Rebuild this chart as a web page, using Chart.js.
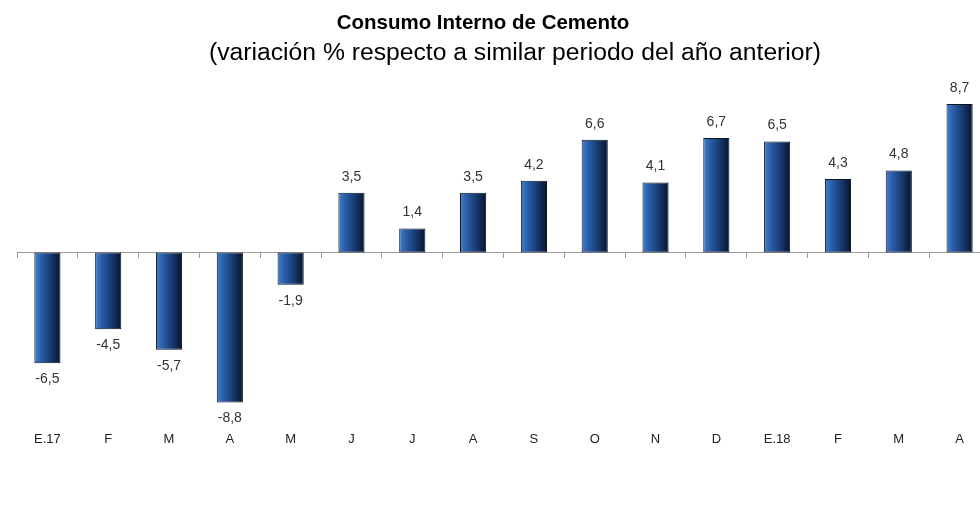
<!DOCTYPE html>
<html>
<head>
<meta charset="utf-8">
<script src="https://cdn.jsdelivr.net/npm/chart.js@4/dist/chart.umd.min.js"></script>
<style>
  html, body { margin: 0; padding: 0; background: #fff; overflow: hidden; }
  #wrap { position: relative; width: 995px; height: 517px; }
  .title { position: absolute; font-family: 'Liberation Sans', Arial, sans-serif; color: #000; text-align: center; white-space: nowrap; }
  #t1 { left: 0; width: 966px; top: 10px; font-size: 20.5px; line-height: 24px; font-weight: bold; }
  #t2 { left: 0; width: 1030px; top: 37px; font-size: 24.7px; line-height: 30px; }
  #chart { position: absolute; left: 0; top: 0; }
</style>
</head>
<body>
<div id="wrap">
  <canvas id="chart" width="995" height="517"></canvas>
  <div class="title" id="t1">Consumo Interno de Cemento</div>
  <div class="title" id="t2">(variación % respecto a similar periodo del año anterior)</div>
</div>
<script>
const months = ['E.17', 'F', 'M', 'A', 'M', 'J', 'J', 'A', 'S', 'O', 'N', 'D', 'E.18', 'F', 'M', 'A'];
const variation = [-6.5, -4.5, -5.7, -8.8, -1.9, 3.5, 1.4, 3.5, 4.2, 6.6, 4.1, 6.7, 6.5, 4.3, 4.8, 8.7];

const BAR_PCT = 0.43;

// horizontal light-to-dark gradient for each bar
function barFill(c) {
    const chart = c.chart;
    const xs = chart.scales.x;
    if (!xs || c.dataIndex === undefined) return '#1d4a8a';
    const cx = xs.getPixelForValue(c.dataIndex);
    const half = (xs.width / months.length) * BAR_PCT / 2;
    if (!isFinite(cx) || !isFinite(half) || half <= 0) return '#1d4a8a';
    const g = chart.ctx.createLinearGradient(cx - half, 0, cx + half, 0);
    g.addColorStop(0, '#4580cc');
    g.addColorStop(0.25, '#2a5ea8');
    g.addColorStop(0.6, '#173d75');
    g.addColorStop(1, '#08142a');
    return g;
}

// value labels above / below bars
const valueLabels = {
    id: 'valueLabels',
    afterDatasetsDraw(chart) {
        const ctx = chart.ctx;
        ctx.save();
        ctx.font = "14px 'Liberation Sans', Arial, sans-serif";
        ctx.fillStyle = '#333';
        ctx.textAlign = 'center';
        ctx.textBaseline = 'middle';
        chart.getDatasetMeta(0).data.forEach((bar, i) => {
            const v = variation[i];
            const y = v >= 0 ? bar.y - 16 : bar.y + 16;
            ctx.fillText(v.toFixed(1).replace('.', ','), bar.x, y);
        });
        ctx.restore();
    }
};

new Chart(document.getElementById('chart'), {
    type: 'bar',
    data: {
        labels: months,
        datasets: [{
            data: variation,
            backgroundColor: barFill,
            borderColor: '#0a1322',
            borderWidth: 1,
            borderSkipped: false,
            categoryPercentage: 1,
            barPercentage: BAR_PCT
        }]
    },
    options: {
        responsive: false,
        animation: false,
        layout: { padding: { top: 80, left: 17, right: 5, bottom: 68 } },
        plugins: { legend: { display: false }, tooltip: { enabled: false } },
        scales: {
            x: {
                grid: { display: false },
                border: { display: false },
                ticks: {
                    padding: 2,
                    color: '#222',
                    font: { family: "'Liberation Sans', Arial, sans-serif", size: 13 }
                }
            },
            x2: {
                type: 'category',
                position: { y: 0 },
                grid: { offset: true, drawOnChartArea: false, tickLength: 5, color: '#999' },
                border: { display: true, color: '#999', width: 1 },
                ticks: { display: false }
            },
            y: {
                display: false,
                min: -9.9,
                max: 10.1
            }
        }
    },
    plugins: [valueLabels]
});
</script>
</body>
</html>
